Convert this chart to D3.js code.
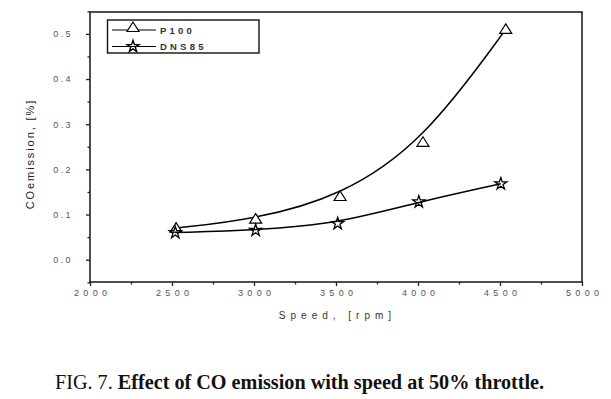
<!DOCTYPE html>
<html><head><meta charset="utf-8">
<script src="https://cdn.jsdelivr.net/npm/d3@7"></script>
<style>body{margin:0;background:#fff}svg{display:block}</style>
</head><body>
<svg id="c" width="611" height="399"></svg>
<script>
const speed = [2525, 3010, 3525, 4030, 4535];
const p100 = [0.07, 0.09, 0.14, 0.26, 0.51];
const speedDns = [2520, 3010, 3510, 4005, 4505];
const dns85 = [0.06, 0.065, 0.08, 0.128, 0.168];
const xTicks = [2000, 2500, 3000, 3500, 4000, 4500, 5000];
const yTicks = [0.0, 0.1, 0.2, 0.3, 0.4, 0.5];
const seriesNames = ["P100", "DNS85"];

const svg = d3.select("#c");
const L = 90, R = 582, T = 12, B = 282;
const x = d3.scaleLinear().domain([2000, 5000]).range([L, R]);
const y = d3.scaleLinear().domain([-0.05, 0.55]).range([B + 0.3, T - 0.7]);

const tickFont = "Arial, 'Liberation Sans', sans-serif";
// x axis
const xa = svg.append("g").attr("transform", `translate(0,${B})`)
  .call(d3.axisBottom(x).tickValues(xTicks).tickFormat(d3.format("d")).tickSize(4).tickPadding(4));
xa.append("g").call(d3.axisBottom(x).tickValues(d3.range(2250, 5000, 500)).tickFormat("").tickSize(2.5));
xa.selectAll(".tick text").attr("letter-spacing", "4.4px").attr("dx", "2.2px");
// y axis
const ya = svg.append("g").attr("transform", `translate(${L},0)`)
  .call(d3.axisLeft(y).tickValues(yTicks).tickFormat(d3.format(".1f")).tickSize(4).tickPadding(13));
ya.append("g").call(d3.axisLeft(y).tickValues(d3.range(-0.05, 0.55, 0.1)).tickFormat("").tickSize(2.5));
ya.selectAll(".tick text").attr("letter-spacing", "2.4px");
svg.selectAll(".domain").remove();
svg.selectAll(".tick line").attr("stroke", "#222").attr("stroke-width", 1.3);
svg.selectAll(".tick text").attr("font-family", tickFont).attr("font-size", 9)
  .attr("fill", "#555");

// frame
svg.append("rect").attr("x", L).attr("y", T).attr("width", R - L).attr("height", B - T)
  .attr("fill", "none").attr("stroke", "#222").attr("stroke-width", 1.6);

// lines
const line = d3.line().curve(d3.curveBasis);
const ptsP = speed.map((s, i) => [x(s), y(p100[i])]);
const ptsD = speedDns.map((s, i) => [x(s), y(dns85[i])]);
svg.append("path").attr("d", line(ptsP)).attr("fill", "none").attr("stroke", "#000").attr("stroke-width", 1.5);
svg.append("path").attr("d", line(ptsD)).attr("fill", "none").attr("stroke", "#000").attr("stroke-width", 1.5);

const star = d3.symbol().type(d3.symbolStar).size(45);
function tri2(g, cx, cy) {
  g.append("path").attr("d", `M${cx},${cy-5.5}L${cx+6},${cy+4}L${cx-6},${cy+4}Z`)
    .attr("fill", "#fff").attr("stroke", "#000").attr("stroke-width", 1.2);
}
function star2(g, cx, cy) {
  g.append("path").attr("d", star()).attr("transform", `translate(${cx},${cy})`)
    .attr("fill", "none").attr("stroke", "#000").attr("stroke-width", 1.3);
}
ptsP.forEach(p => tri2(svg, p[0], p[1]));
ptsD.forEach(p => star2(svg, p[0], p[1]));

// legend
svg.append("rect").attr("x", 107.5).attr("y", 20).attr("width", 151.5).attr("height", 33)
  .attr("fill", "#fff").attr("stroke", "#111").attr("stroke-width", 1.4);
[0, 1].forEach(i => {
  const ly = 30 + i * 16.5;
  svg.append("line").attr("x1", 112).attr("x2", 156).attr("y1", ly).attr("y2", ly)
    .attr("stroke", "#000").attr("stroke-width", 1.2);
  if (i === 0) tri2(svg, 133, ly - 2.5); else star2(svg, 133, ly);
  svg.append("text").attr("x", 160).attr("y", ly + 3.5).text(seriesNames[i])
    .attr("font-family", tickFont).attr("font-size", 9.5).attr("font-weight", "bold")
    .attr("fill", "#333").attr("letter-spacing", "3.2px");
});

// axis labels
svg.append("text").attr("transform", "translate(34,155) rotate(-90)").attr("text-anchor", "middle")
  .attr("font-family", tickFont).attr("font-size", 11).attr("fill", "#222")
  .attr("letter-spacing", "1.9px").attr("dx", "0.95px")
  .text("COemission, [%]");
svg.append("text").attr("x", 335).attr("y", 319).attr("text-anchor", "middle")
  .attr("font-family", tickFont).attr("font-size", 10).attr("fill", "#333")
  .attr("letter-spacing", "5px").attr("dx", "2.5px").text("Speed, [rpm]");

// caption
const cap = svg.append("text").attr("x", 55).attr("y", 389)
  .attr("font-family", "'Liberation Serif', 'Times New Roman', serif").attr("font-size", 20.2).attr("fill", "#111");
cap.append("tspan").text("FIG. 7. ");
cap.append("tspan").attr("font-weight", "bold").text("Effect of CO emission with speed at 50% throttle.");
</script>
</body></html>
